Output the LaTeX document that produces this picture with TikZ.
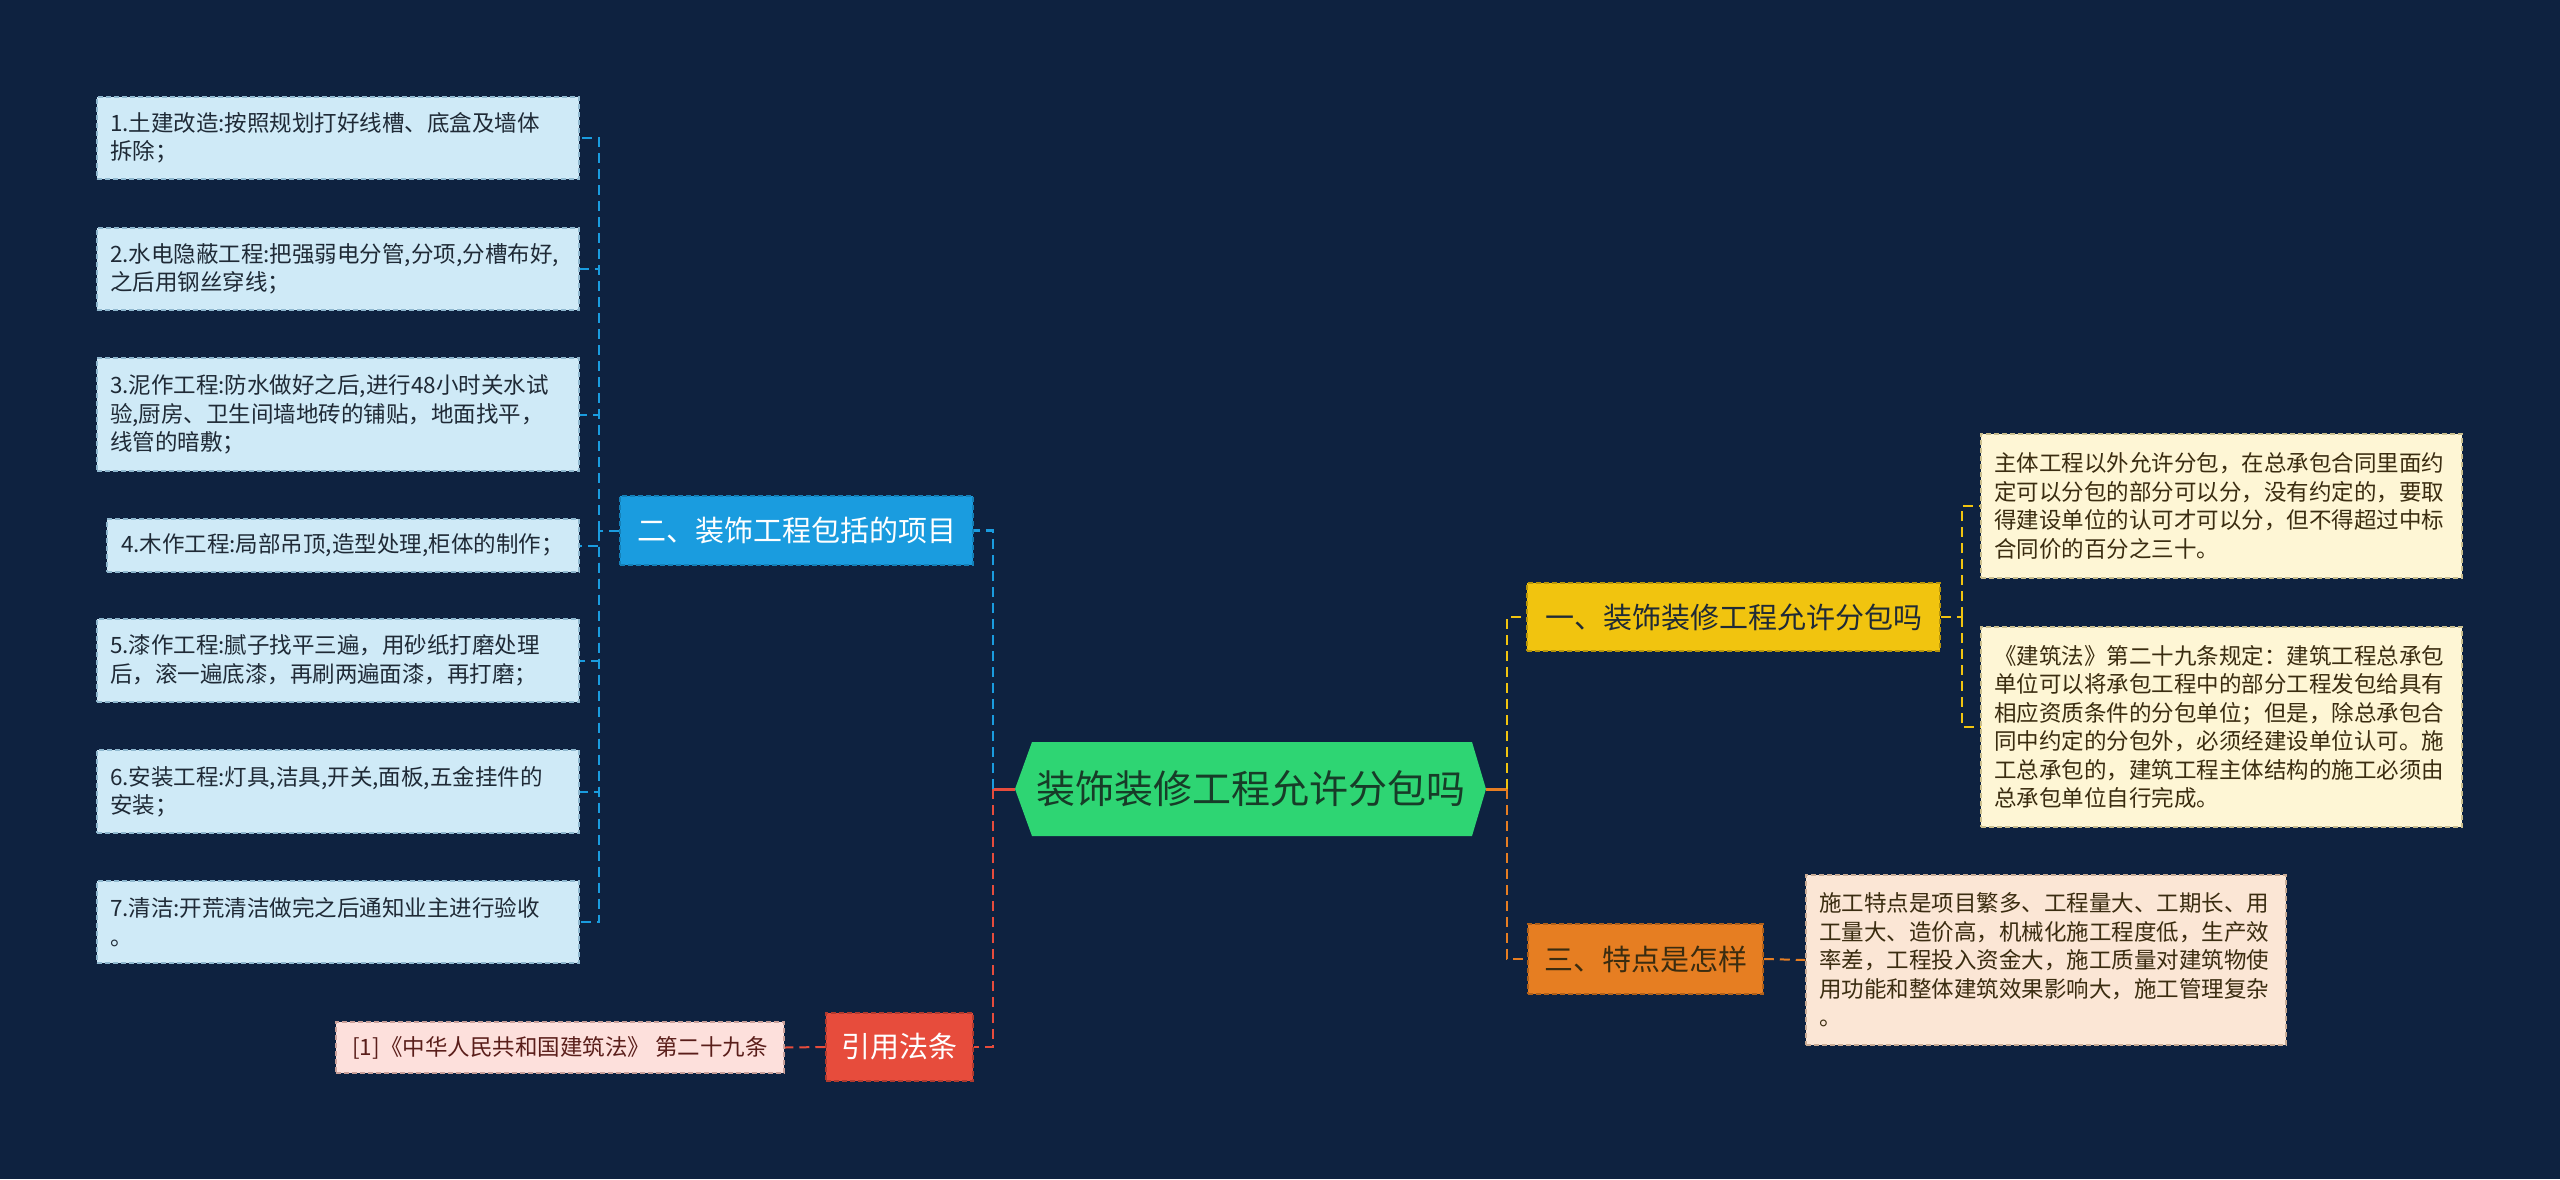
\documentclass[tikz,border=0pt]{standalone}
\usepackage{fontspec}
\setmainfont{Noto Sans CJK SC}
\definecolor{bg}{HTML}{0E2240}
\definecolor{rootfill}{HTML}{2ED573}
\definecolor{roottext}{HTML}{173C28}
\definecolor{bblue}{HTML}{1A9CDF}
\definecolor{bbluedk}{HTML}{1480B8}
\definecolor{byellow}{HTML}{F1C40F}
\definecolor{byellowdk}{HTML}{B8960A}
\definecolor{borange}{HTML}{E67E22}
\definecolor{borangedk}{HTML}{B0601A}
\definecolor{bred}{HTML}{E74C3C}
\definecolor{breddk}{HTML}{B03A2E}
\definecolor{lblue}{HTML}{CFEAF7}
\definecolor{lbluedk}{HTML}{8FB8CF}
\definecolor{cream}{HTML}{FEF6D5}
\definecolor{creamdk}{HTML}{C9BE8E}
\definecolor{peach}{HTML}{FBE6D5}
\definecolor{peachdk}{HTML}{C9AC96}
\definecolor{pink}{HTML}{FDE0DC}
\definecolor{pinkdk}{HTML}{C9A09A}
\definecolor{darktext}{HTML}{1F2A36}
\definecolor{browntext}{HTML}{3A2C10}
\definecolor{redtext}{HTML}{5A1E1A}
\tikzset{
  leaf/.style={line width=1.5pt, dash pattern=on 5pt off 3pt, align=left,
    inner xsep=13pt, inner ysep=0pt, font=\fontsize{22.5}{28.5}\selectfont},
  lbox/.style={leaf, fill=lblue, draw=lbluedk, text=darktext, text width=456pt},
  ybox/.style={leaf, fill=cream, draw=creamdk, text=browntext, text width=455pt},
  obox/.style={leaf, fill=peach, draw=peachdk, text=browntext, text width=454pt},
  pbox/.style={leaf, fill=pink, draw=pinkdk, text=redtext},
  branch/.style={line width=1.5pt, dash pattern=on 5pt off 3pt, inner sep=0pt,
    font=\fontsize{29}{35}\selectfont},
  conn/.style={line width=2.5pt, dash pattern=on 10pt off 6pt},
  subconn/.style={line width=2pt, dash pattern=on 10pt off 6pt},
  stem/.style={line width=3pt}
}
\begin{document}
\begin{tikzpicture}[x=1pt,y=-1pt]
\fill[bg] (0,0) rectangle (2560,1179);
\useasboundingbox (0,0) rectangle (2560,1179);

% root
\fill[rootfill] (1015,789) -- (1032,742) -- (1472,742) -- (1486,789) -- (1472,836) -- (1032,836) -- cycle;
\node[minimum width=471pt, minimum height=94pt, inner sep=0pt, text=roottext,
  font=\fontsize{39}{47}\selectfont] (root) at (1250.5,789) {装饰装修工程允许分包吗};

% branches
\node[branch, fill=bblue, draw=bbluedk, text=white, minimum width=353pt, minimum height=69pt]
  (b2) at (796.5,530.5) {二、装饰工程包括的项目};
\node[branch, fill=byellow, draw=byellowdk, text=darktext, minimum width=413pt, minimum height=68pt]
  (b1) at (1733.5,617) {一、装饰装修工程允许分包吗};
\node[branch, fill=borange, draw=borangedk, text=browntext, minimum width=235pt, minimum height=70pt]
  (b3) at (1645.5,959) {三、特点是怎样};
\node[branch, fill=bred, draw=breddk, text=white, minimum width=147pt, minimum height=68pt]
  (ref) at (899.5,1047) {引用法条};

% left leaves
\node[lbox, minimum height=82pt] (c1) at (338,138) {1.土建改造:按照规划打好线槽、底盒及墙体\\拆除；};
\node[lbox, minimum height=82pt] (c2) at (338,269) {2.水电隐蔽工程:把强弱电分管,分项,分槽布好,\\之后用钢丝穿线；};
\node[lbox, minimum height=113pt] (c3) at (338,414.5) {3.泥作工程:防水做好之后,进行48小时关水试\\验,厨房、卫生间墙地砖的铺贴，地面找平，\\线管的暗敷；};
\node[lbox, text width=444pt, inner xsep=14pt, minimum height=53pt] (c4) at (343,545.5) {4.木作工程:局部吊顶,造型处理,柜体的制作；};
\node[lbox, minimum height=83pt] (c5) at (338,660.5) {5.漆作工程:腻子找平三遍，用砂纸打磨处理\\后，滚一遍底漆，再刷两遍面漆，再打磨；};
\node[lbox, minimum height=83pt] (c6) at (338,791.5) {6.安装工程:灯具,洁具,开关,面板,五金挂件的\\安装；};
\node[lbox, minimum height=82pt] (c7) at (338,922) {7.清洁:开荒清洁做完之后通知业主进行验收\\。};

% right leaves
\node[ybox, minimum height=144pt] (y1) at (2221.5,506) {主体工程以外允许分包，在总承包合同里面约\\定可以分包的部分可以分，没有约定的，要取\\得建设单位的认可才可以分，但不得超过中标\\合同价的百分之三十。};
\node[ybox, minimum height=200pt] (y2) at (2221.5,727) {《建筑法》第二十九条规定：建筑工程总承包\\单位可以将承包工程中的部分工程发包给具有\\相应资质条件的分包单位；但是，除总承包合\\同中约定的分包外，必须经建设单位认可。施\\工总承包的，建筑工程主体结构的施工必须由\\总承包单位自行完成。};
\node[obox, minimum height=170pt] (o1) at (2046,960) {施工特点是项目繁多、工程量大、工期长、用\\工量大、造价高，机械化施工程度低，生产效\\率差，工程投入资金大，施工质量对建筑物使\\用功能和整体建筑效果影响大，施工管理复杂\\。};
\node[pbox, minimum width=448pt, minimum height=51pt] (r1) at (560,1047.5) {[1]《中华人民共和国建筑法》 第二十九条};

% junctions
\coordinate (jl) at (993,789);
\coordinate (jr) at (1507,789);
\coordinate (lb) at (599,530.5);
\coordinate (yb) at (1962,617);

% root connectors
\draw[stem, bred] (root.west) -- (jl);
\draw[stem, borange] (root.east) -- (jr);
\draw[conn, bblue] (jl) |- (b2.east);
\draw[conn, bred] (jl) |- (ref.east);
\draw[conn, byellow] (jr) |- (b1.west);
\draw[conn, borange] (jr) |- (b3.west);

% left children
\draw[subconn, bblue] (b2.west) -- (lb);
\foreach \c in {c1,c2,c3,c4,c5,c6,c7} {
  \draw[subconn, bblue] (lb) |- (\c.east);
}
% right children
\draw[subconn, byellow] (b1.east) -- (yb);
\draw[subconn, byellow] (yb) |- (y1.west);
\draw[subconn, byellow] (yb) |- (y2.west);
\draw[subconn, borange] (b3.east) -- (o1.west);
\draw[subconn, bred] (ref.west) -- (r1.east);
\end{tikzpicture}
\end{document}
